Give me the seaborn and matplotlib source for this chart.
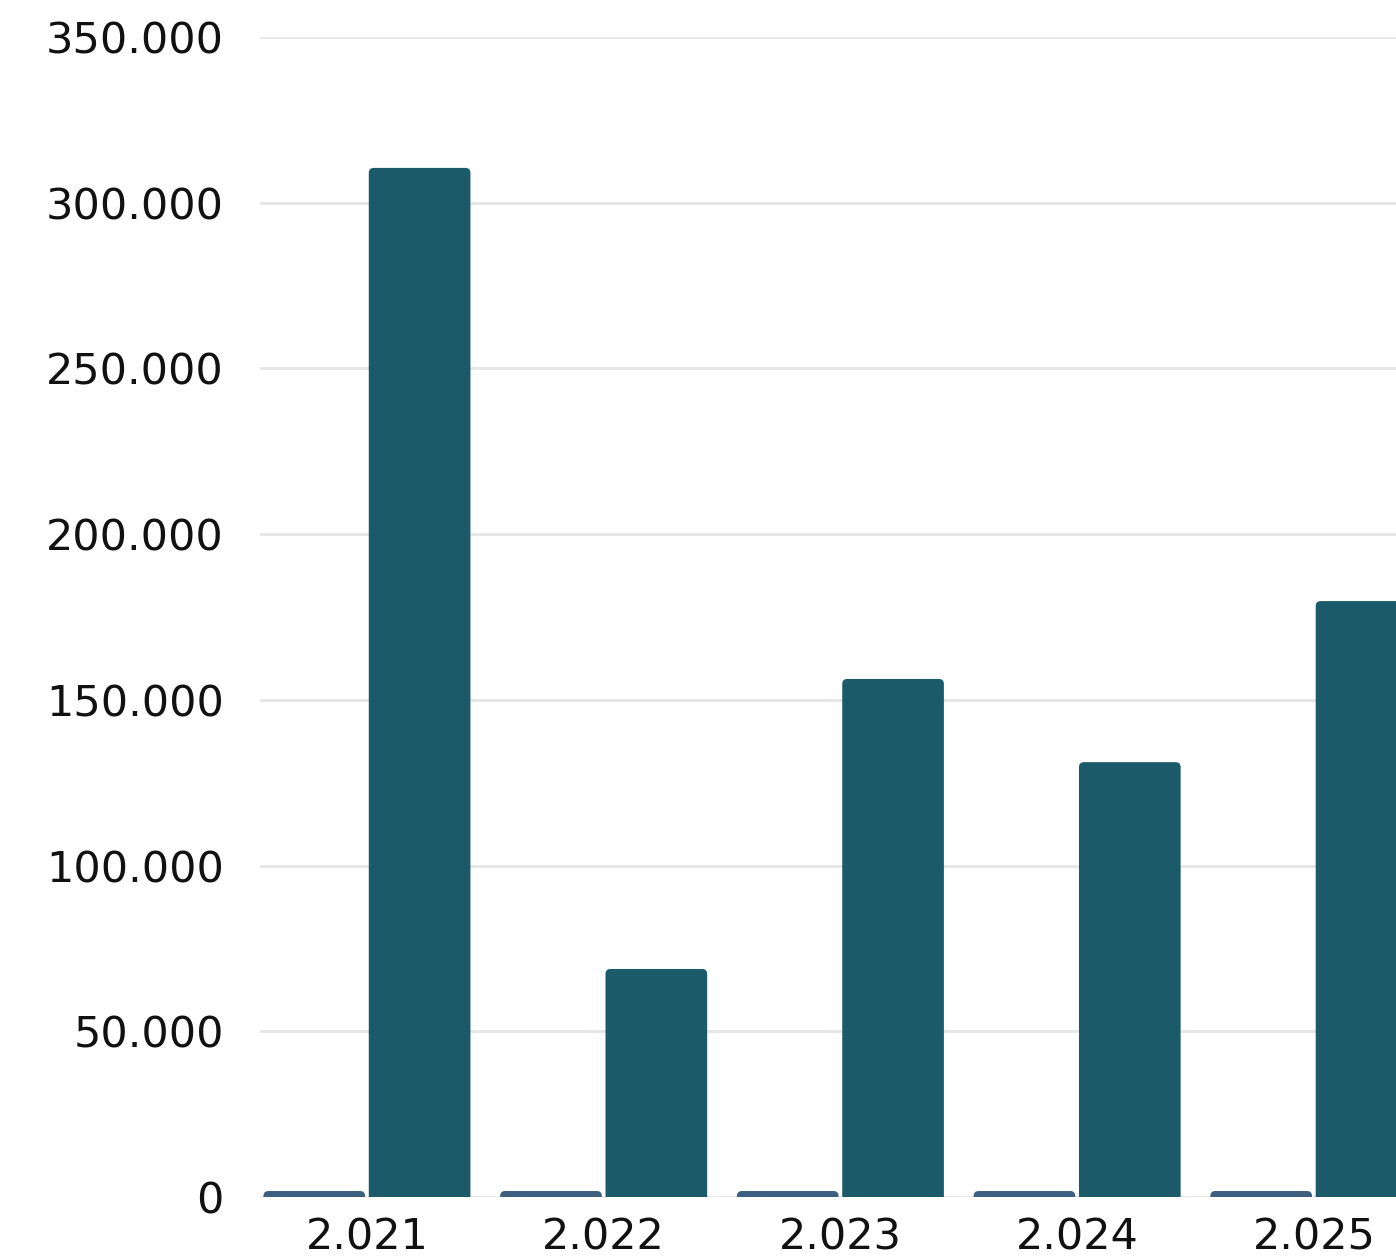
import pandas as pd
import matplotlib
matplotlib.use("Agg")
import matplotlib.pyplot as plt
import seaborn as sns
from matplotlib.patches import FancyBboxPatch
from matplotlib.ticker import FuncFormatter

# Chart data
years = ["2.021", "2.022", "2.023", "2.024", "2.025"]
series_names = ["Serie 1", "Serie 2"]
serie_1 = [1800, 1800, 1800, 1800, 1800]
serie_2 = [310500, 68800, 156300, 131200, 179800]
colors = ["#3D5F80", "#1B5A68"]

df = pd.DataFrame({
    "year": years * 2,
    "serie": [series_names[0]] * len(years) + [series_names[1]] * len(years),
    "value": serie_1 + serie_2,
})

sns.set_theme(style="white")
plt.rcParams["font.family"] = ["DejaVu Sans"]

fig = plt.figure(figsize=(13.96, 12.58), dpi=100)
ax = fig.add_axes([0.1862, 0.0485, 0.8138, 0.9221])

sns.barplot(data=df, x="year", y="value", hue="serie", palette=colors,
            saturation=1, width=0.89, gap=0.035, legend=False, ax=ax, zorder=3)

# swap plain rectangles for bars with rounded corners
px_x = 236.7
px_y = 1160 / 350000
r = 5
for bar in list(ax.patches):
    x, y = bar.get_x(), bar.get_y()
    w, h = bar.get_width(), bar.get_height()
    rx = r / px_x
    ry = r / px_y
    rounded = FancyBboxPatch((x, y - ry), w, h + ry,
                             boxstyle=f"round,pad=0,rounding_size={rx}",
                             mutation_aspect=ry / rx,
                             facecolor=bar.get_facecolor(), edgecolor="none",
                             zorder=3, clip_on=True)
    bar.remove()
    ax.add_patch(rounded)

ax.set_ylim(0, 350000)
ax.set_xlim(-0.452, 4.347)
ax.set_yticks(range(0, 350001, 50000))
ax.yaxis.set_major_formatter(FuncFormatter(lambda v, p: f"{int(v):,}".replace(",", ".")))

ax.grid(axis="y", color="#E6E6E6", linewidth=2, zorder=0)
ax.grid(axis="x", visible=False)
for s in ax.spines.values():
    s.set_visible(False)

ax.set_xlabel("")
ax.set_ylabel("")
ax.tick_params(axis="y", length=0, pad=26, labelsize=31, labelcolor="#111111")
ax.tick_params(axis="x", length=0, pad=14, labelsize=31, labelcolor="#111111")

fig.savefig("out.png", dpi=100)
